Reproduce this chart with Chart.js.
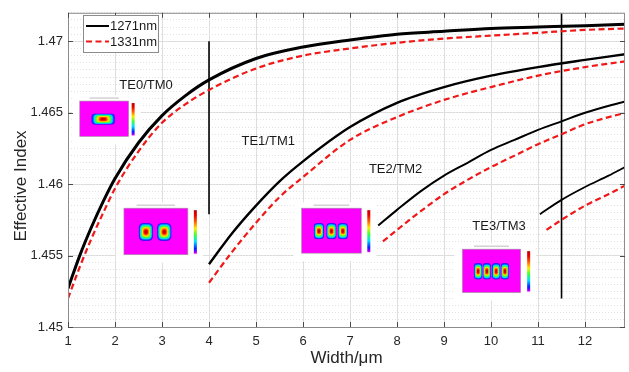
<!DOCTYPE html>
<html>
<head>
<meta charset="utf-8">
<script src="https://cdn.jsdelivr.net/npm/chart.js@4.4.1/dist/chart.umd.min.js"></script>
<style>
  html, body { margin: 0; padding: 0; background: #fff; }
  #wrap { width: 629px; height: 372px; }
</style>
</head>
<body>
<div id="wrap"><canvas id="modeChart" width="629" height="372"></canvas></div>
<script>
// Effective index vs waveguide width
const te0Width = [1, 1.25, 1.5, 1.75, 2, 2.5, 3, 3.5, 4, 5, 6, 7, 8, 9, 10, 11, 12, 12.85];
const te0Black = [1.4527, 1.4550, 1.4570, 1.4588, 1.4604, 1.4629, 1.4648, 1.4662, 1.4673, 1.4688, 1.4696, 1.4701, 1.4705, 1.4707, 1.4709, 1.4710, 1.4711, 1.4712];
const te0Red   = [1.4520, 1.4542, 1.4562, 1.4580, 1.4597, 1.4623, 1.4643, 1.4656, 1.4666, 1.4681, 1.4690, 1.4695, 1.4699, 1.4702, 1.4704, 1.4706, 1.4708, 1.4709];

const te1Width = [4, 4.5, 5, 5.5, 6, 7, 8, 9, 10, 11, 12, 12.85];
const te1Black = [1.4544, 1.4566, 1.4585, 1.4602, 1.4616, 1.4640, 1.4657, 1.4668, 1.4676, 1.4682, 1.4687, 1.4691];
const te1Red   = [1.4531, 1.4553, 1.4573, 1.4591, 1.4605, 1.4631, 1.4647, 1.4659, 1.4668, 1.4676, 1.4682, 1.4686];

const te2BlackWidth = [7.6, 8, 8.5, 9, 9.5, 10, 10.5, 11, 11.5, 12, 12.85];
const te2Black      = [1.4571, 1.4582, 1.4595, 1.4606, 1.4615, 1.4624, 1.4631, 1.4638, 1.4644, 1.4650, 1.4658];
const te2RedWidth   = [7.7, 8, 8.5, 9, 9.5, 10, 10.5, 11, 11.5, 12, 12.85];
const te2Red        = [1.4560, 1.4568, 1.4581, 1.4593, 1.4603, 1.4612, 1.4620, 1.4628, 1.4635, 1.4642, 1.4650];

const te3BlackWidth = [11.04, 11.5, 12, 12.5, 12.85];
const te3Black      = [1.4579, 1.4589, 1.4598, 1.4606, 1.4612];
const te3RedWidth   = [11.18, 11.5, 12, 12.5, 12.85];
const te3Red        = [1.4568, 1.4575, 1.4585, 1.4593, 1.4599];

// vertical marker lines
const markerWidth = [4, 11.5];
const markerLow   = [1.4579, 1.4520];
const markerHigh  = [1.4700, 1.4720];

const modeNames = ['TE0/TM0', 'TE1/TM1', 'TE2/TM2', 'TE3/TM3'];
const seriesNames = ['1271nm', '1331nm'];
const xTicks = [1, 2, 3, 4, 5, 6, 7, 8, 9, 10, 11, 12];
const yTicks = [1.45, 1.455, 1.46, 1.465, 1.47];

const pts = (xs, ys) => xs.map((x, i) => ({ x: x, y: ys[i] }));

const blackStyle = (w) => ({ borderColor: '#000', borderWidth: w, pointRadius: 0, cubicInterpolationMode: 'monotone', fill: false });
const redStyle = { borderColor: '#f01818', borderWidth: 2.2, borderDash: [6, 3.5], pointRadius: 0, cubicInterpolationMode: 'monotone', fill: false };

const datasets = [
  Object.assign({ label: seriesNames[0], data: pts(te0Width, te0Black) }, blackStyle(3)),
  Object.assign({ label: seriesNames[1], data: pts(te0Width, te0Red) }, redStyle),
  Object.assign({ label: '', data: pts(te1Width, te1Black) }, blackStyle(2.4)),
  Object.assign({ label: '', data: pts(te1Width, te1Red) }, redStyle),
  Object.assign({ label: '', data: pts(te2BlackWidth, te2Black) }, blackStyle(2)),
  Object.assign({ label: '', data: pts(te2RedWidth, te2Red) }, redStyle),
  Object.assign({ label: '', data: pts(te3BlackWidth, te3Black) }, blackStyle(1.8)),
  Object.assign({ label: '', data: pts(te3RedWidth, te3Red) }, redStyle)
];
markerWidth.forEach((w, i) => {
  datasets.push({ label: '', data: [{ x: w, y: markerLow[i] }, { x: w, y: markerHigh[i] }],
    borderColor: '#000', borderWidth: 1.6, pointRadius: 0, fill: false });
});

// label anchors and inset mode-profile pictures, placed in data units
const labelPos = [[2.66, 1.46694], [5.26, 1.46301], [7.97, 1.46101], [10.17, 1.45701]];
const insets = [
  { x0: 1.25, x1: 2.29, y0: 1.46582, y1: 1.46334, lobes: [0.48], rx: 0.25, ry: 0.16, gap: 3 },
  { x0: 2.19, x1: 3.55, y0: 1.45832, y1: 1.45506, lobes: [0.344, 0.631], rx: 0.115, ry: 0.2, gap: 6 },
  { x0: 5.97, x1: 7.24, y0: 1.45832, y1: 1.45517, lobes: [0.29, 0.5, 0.69], rx: 0.085, ry: 0.185, gap: 6 },
  { x0: 9.39, x1: 10.63, y0: 1.45545, y1: 1.45241, lobes: [0.27, 0.42, 0.58, 0.73], rx: 0.07, ry: 0.195, gap: 6.5 }
];

const FONT = '"Liberation Sans", Arial, Helvetica, sans-serif';

// colour map from field edge (0) to peak (1)
const cmapStops = [
  [0, [255, 0, 255]], [0.05, [120, 0, 255]], [0.12, [0, 40, 255]], [0.28, [0, 225, 255]],
  [0.43, [60, 255, 60]], [0.58, [255, 235, 0]], [0.74, [255, 90, 0]], [0.88, [235, 0, 0]], [1, [190, 0, 0]]
];
function cmap(t) {
  for (let i = 1; i < cmapStops.length; i++) {
    const [t1, c1] = cmapStops[i], [t0, c0] = cmapStops[i - 1];
    if (t <= t1) {
      const f = (t - t0) / (t1 - t0);
      return 'rgb(' + c0.map((c, k) => Math.round(c + (c1[k] - c) * f)).join(',') + ')';
    }
  }
  return 'rgb(190,0,0)';
}

function drawLobe(ctx, cx, cy, hw, hh) {
  const N = 30;
  for (let k = 1; k < N; k++) {
    const t = k / N, s = 1 - t * 0.92;
    const w = hw * s, h = hh * s;
    const r = Math.min(w, h) * (0.6 + 0.4 * t);
    ctx.fillStyle = cmap(t);
    ctx.beginPath();
    ctx.roundRect(cx - w, cy - h, 2 * w, 2 * h, r);
    ctx.fill();
  }
}

function drawInset(ctx, xs, ys, ins) {
  const left = xs.getPixelForValue(ins.x0), right = xs.getPixelForValue(ins.x1);
  const top = ys.getPixelForValue(ins.y0), bottom = ys.getPixelForValue(ins.y1);
  const w = right - left, h = bottom - top;
  const cbX = right + ins.gap, cbW = 3;
  ctx.save();
  ctx.fillStyle = '#fff';
  ctx.fillRect(left - 8, top - 6, cbX + cbW + 6 - (left - 8), h + 14);
  ctx.fillStyle = '#bcbcbc';
  ctx.fillRect(left + w * 0.2, top - 3.5, w * 0.6, 1);
  ctx.fillStyle = '#ff00ff';
  ctx.fillRect(left, top, w, h);
  ctx.strokeStyle = '#999';
  ctx.lineWidth = 0.6;
  ctx.strokeRect(left, top, w, h);
  ins.lobes.forEach(f => drawLobe(ctx, left + f * w, top + h * 0.51, ins.rx * w, ins.ry * h));
  const cb = ctx.createLinearGradient(0, top + 2, 0, bottom - 1);
  cmapStops.forEach(([t]) => cb.addColorStop(1 - t, cmap(t)));
  ctx.fillStyle = cb;
  ctx.fillRect(cbX, top + 2, cbW, h - 3);
  ctx.restore();
}

const decor = {
  id: 'decor',
  beforeDatasetsDraw(chart) {
    const { ctx, scales: { x, y } } = chart;
    insets.forEach(ins => drawInset(ctx, x, y, ins));
  },
  afterDatasetsDraw(chart) {
    const { ctx, chartArea: a, scales: { x, y } } = chart;
    ctx.save();
    // axes box
    ctx.strokeStyle = '#8c8c8c';
    ctx.lineWidth = 1;
    ctx.strokeRect(a.left + 0.5, a.top + 0.5, a.right - a.left - 1, a.bottom - a.top);
    // inward tick marks on all four sides
    ctx.strokeStyle = '#4a4a4a';
    ctx.beginPath();
    xTicks.forEach(v => {
      const px = Math.round(x.getPixelForValue(v)) + 0.5;
      ctx.moveTo(px, a.bottom); ctx.lineTo(px, a.bottom - 5);
      ctx.moveTo(px, a.top); ctx.lineTo(px, a.top + 5);
    });
    yTicks.forEach(v => {
      const py = Math.round(y.getPixelForValue(v)) + 0.5;
      ctx.moveTo(a.left, py); ctx.lineTo(a.left + 5, py);
      ctx.moveTo(a.right, py); ctx.lineTo(a.right - 5, py);
    });
    ctx.stroke();
    // mode labels
    ctx.fillStyle = '#1a1a1a';
    ctx.font = '13px ' + FONT;
    ctx.textAlign = 'center';
    ctx.textBaseline = 'middle';
    modeNames.forEach((name, i) => {
      ctx.fillText(name, x.getPixelForValue(labelPos[i][0]), y.getPixelForValue(labelPos[i][1]));
    });
    // legend box
    const lx = 83, ly = 15;
    ctx.fillStyle = '#fff';
    ctx.fillRect(lx, ly, 75, 37);
    ctx.strokeStyle = '#8c8c8c';
    ctx.lineWidth = 1;
    ctx.strokeRect(lx + 0.5, ly + 0.5, 75, 37);
    [0, 1].forEach(i => {
      const ds = chart.data.datasets[i];
      const yy = ly + 11 + i * 15.5;
      ctx.strokeStyle = ds.borderColor;
      ctx.lineWidth = 2;
      ctx.setLineDash(ds.borderDash || []);
      ctx.beginPath();
      ctx.moveTo(lx + 3, yy); ctx.lineTo(lx + 26, yy);
      ctx.stroke();
      ctx.setLineDash([]);
      ctx.fillStyle = '#1a1a1a';
      ctx.textAlign = 'left';
      ctx.font = '13px ' + FONT;
      ctx.fillText(ds.label, lx + 27, yy + 0.5);
    });
    // y-axis title
    ctx.translate(21, 186);
    ctx.rotate(-Math.PI / 2);
    ctx.textAlign = 'center';
    ctx.font = '17px ' + FONT;
    ctx.fillStyle = '#262626';
    ctx.fillText('Effective Index', 0, 0);
    ctx.restore();
  }
};

const ctx = document.getElementById('modeChart').getContext('2d');
const chart = new Chart(ctx, {
  type: 'line',
  data: { datasets: datasets },
  options: {
    responsive: false,
    animation: false,
    layout: { padding: { left: 0, right: 4, top: 7, bottom: 0 } },
    plugins: { legend: { display: false }, tooltip: { enabled: false } },
    scales: {
      x: {
        type: 'linear', min: 1, max: 12.85,
        afterFit: s => { s.height = 45; },
        afterBuildTicks: s => { s.ticks = xTicks.map(v => ({ value: v })); },
        ticks: { padding: 7, color: '#262626', font: { family: FONT, size: 13 } },
        grid: { color: '#dedede', lineWidth: 1, drawTicks: false },
        border: { display: false },
        title: { display: true, text: 'Width/\u03bcm', color: '#262626', font: { family: FONT, size: 17 }, padding: { top: 0, bottom: 3 } }
      },
      y: {
        type: 'linear', min: 1.45, max: 1.472, position: 'left',
        afterFit: s => { s.width = 68; },
        afterBuildTicks: s => { s.ticks = yTicks.map(v => ({ value: v })); },
        ticks: { padding: 5, color: '#262626', font: { family: FONT, size: 13 },
          callback: v => String(Number(v.toFixed(3))) },
        grid: { color: '#dcdcdc', lineWidth: 1, drawTicks: false },
        border: { display: false }
      },
      yMinor: {
        type: 'linear', min: 1.45, max: 1.472, position: 'left',
        afterFit: s => { s.width = 0; },
        afterBuildTicks: s => {
          const t = [];
          for (let i = 0; i <= 44; i++) t.push({ value: 1.45 + i * 0.0005 });
          s.ticks = t;
        },
        ticks: { display: false },
        grid: { color: '#e2e2e2', lineWidth: 1, drawTicks: false },
        border: { display: false, dash: [1, 2] }
      }
    }
  },
  plugins: [decor]
});
</script>
</body>
</html>
